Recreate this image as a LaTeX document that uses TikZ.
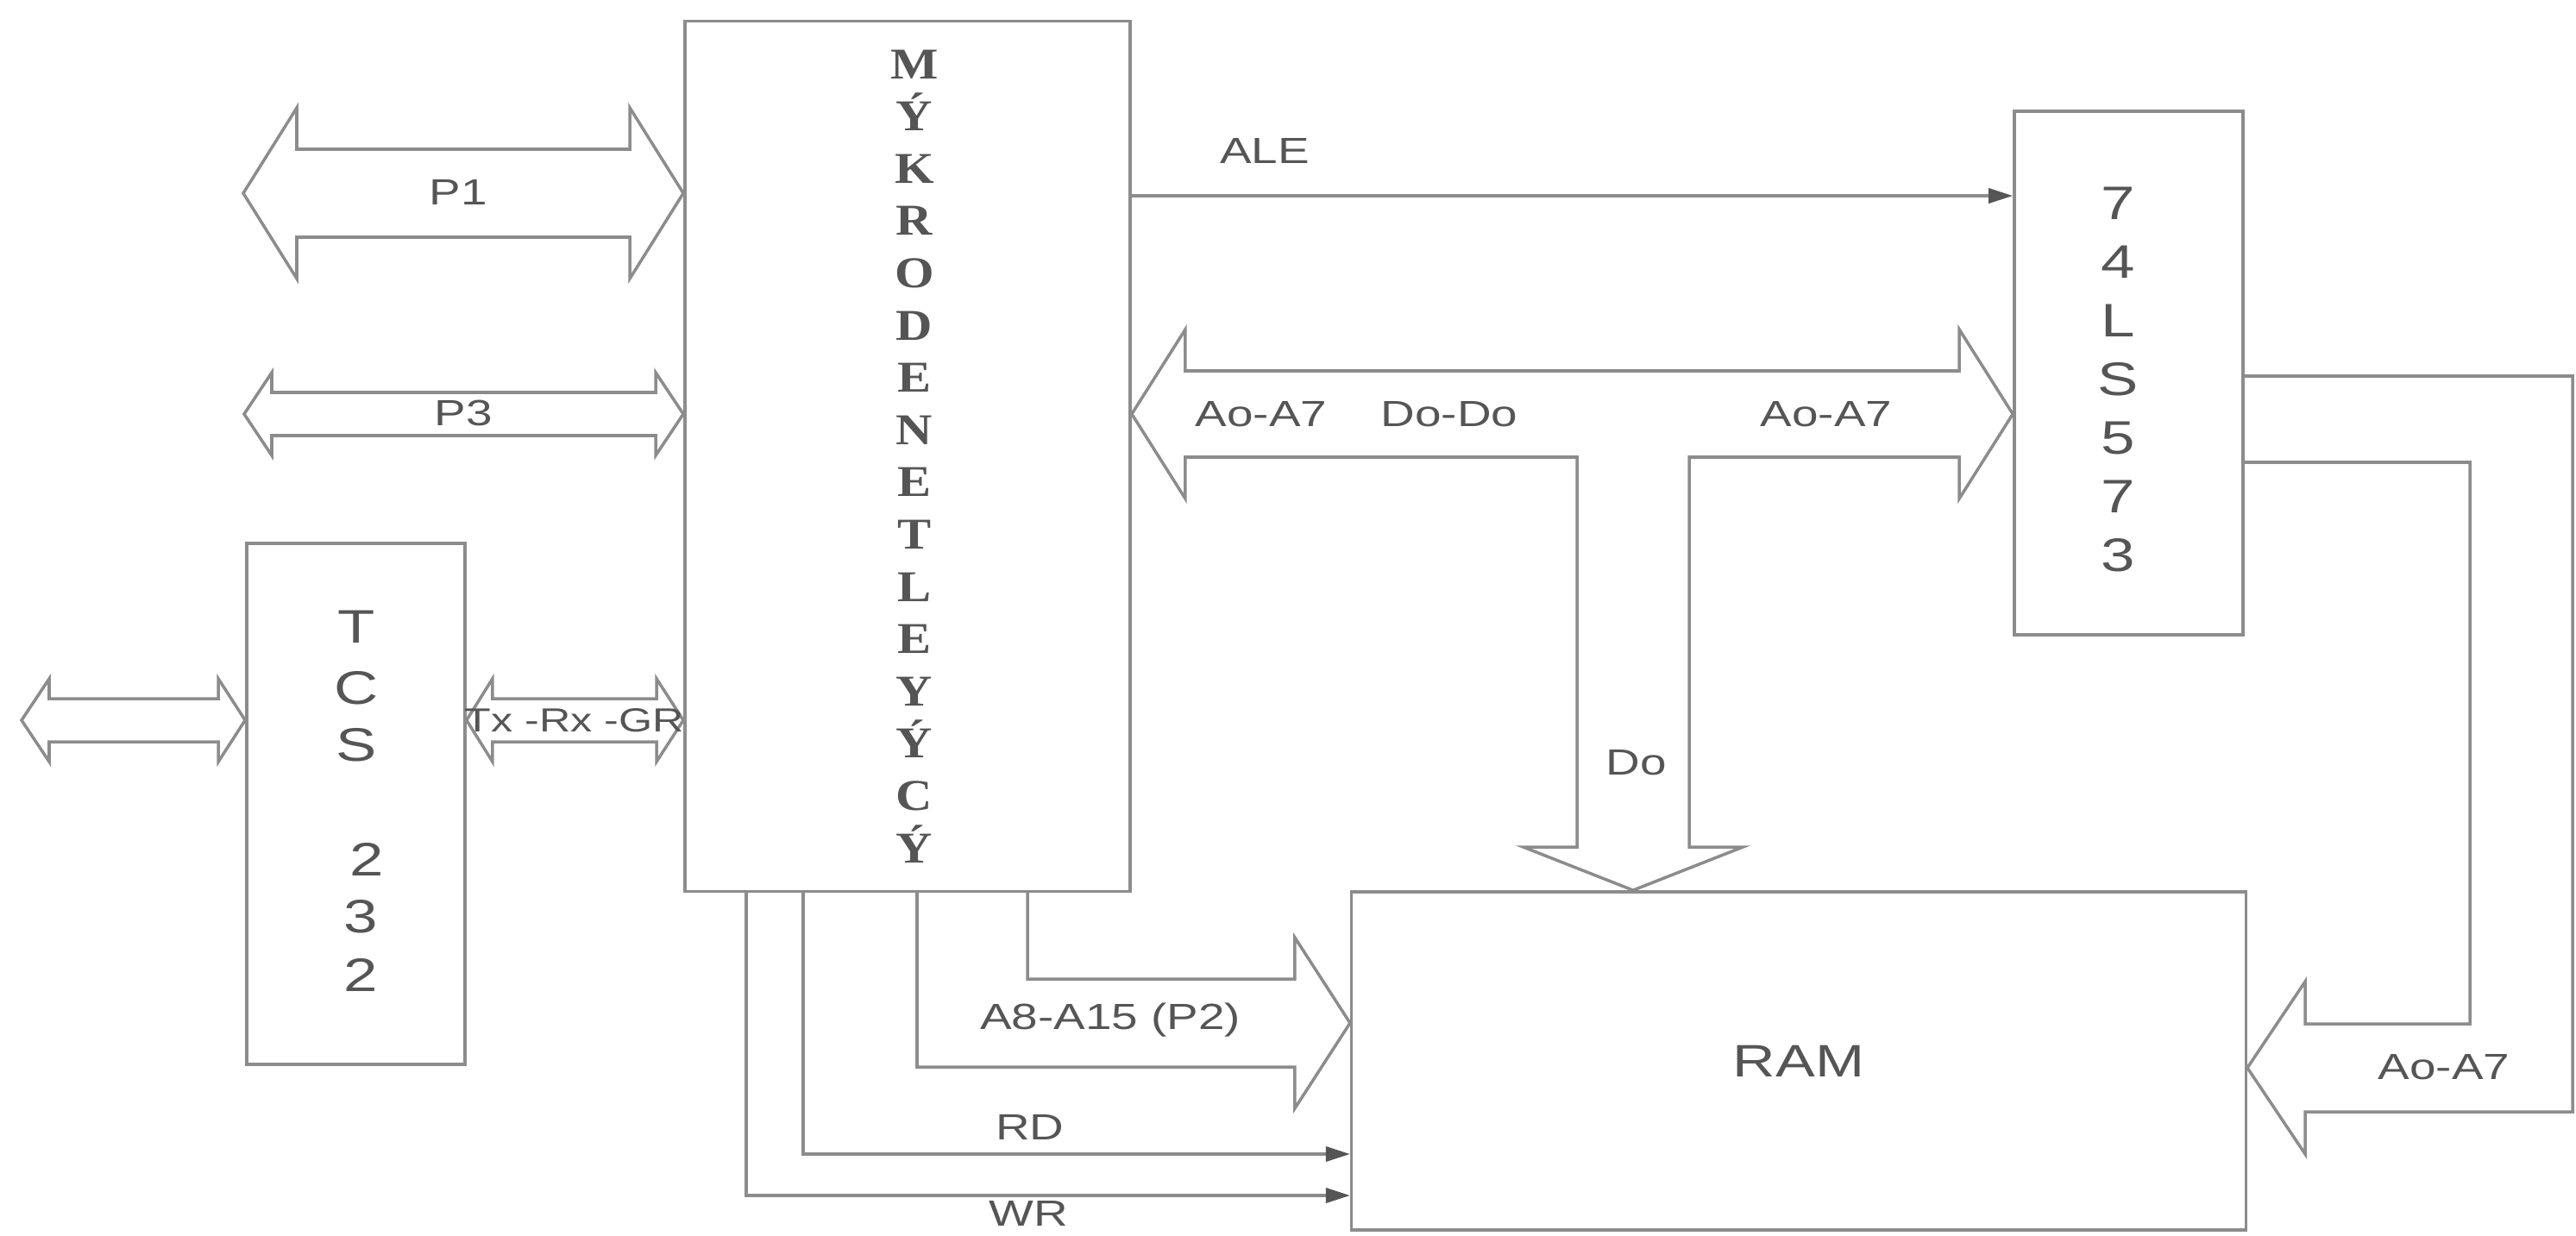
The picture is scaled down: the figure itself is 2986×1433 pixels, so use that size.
\documentclass[tikz,border=0pt]{standalone}
\usepackage{fontspec}
\usepackage{tikz}
\usetikzlibrary{arrows.meta, calc}
\newfontfamily\lblfont[FakeStretch=1.3]{Liberation Sans}
\newfontfamily\mcufont[FakeStretch=1.15]{Liberation Serif}
\definecolor{linegray}{HTML}{8C8C8C}
\definecolor{textgray}{HTML}{555555}

\begin{document}
\begin{tikzpicture}[
    x=0.01cm, y=-0.01cm,
    box/.style={draw=linegray, line width=1pt, inner sep=0pt, text=textgray},
    bus/.style={draw=linegray, line width=1pt, line join=miter},
    sig/.style={draw=linegray, line width=1pt, -{Triangle[length=0.28cm, width=0.17cm, color=textgray]}},
    lbl/.style={text=textgray, inner sep=0pt, font=\lblfont\fontsize{12}{14}\selectfont},
    chip/.style={text=textgray, inner sep=0pt, font=\lblfont\fontsize{15.5}{18}\selectfont},
    mchar/.style={text=textgray, inner sep=0pt, anchor=base, font=\mcufont\bfseries\fontsize{14.5}{17}\selectfont}
  ]
  \useasboundingbox (0,0) rectangle (2986,1433);

  % blocks
  \node[box, minimum width=5.16cm, minimum height=10.08cm] (mcu) at (1052,529) {};
  \node[box, minimum width=2.53cm, minimum height=6.04cm] (tcs) at (412.5,932) {};
  \node[box, minimum width=2.65cm, minimum height=6.07cm] (latch) at (2467.5,432.5) {};
  \node[box, minimum width=10.36cm, minimum height=3.92cm,
        font=\lblfont\fontsize{15}{18}\selectfont] (ram) at (2085,1230) {RAM};

  % vertical chip names
  \foreach \c [count=\i from 0] in {M,Ý,K,R,O,D,E,N,E,T,L,E,Y,Ý,C,Ý}
    \node[mchar] (mc\i) at (1060,{91+60.6*\i}) {\c};
  \foreach \c/\x/\y [count=\i] in {T/413/727,C/413/798,S/413/864,2/425/996,3/418/1063,2/418/1130}
    \node[chip] (tc\i) at (\x,\y) {\c};
  \foreach \c [count=\i from 0] in {7,4,L,S,5,7,3}
    \node[chip] (lc\i) at (2455,{236+68*\i}) {\c};

  % bus levels
  \coordinate (p1end) at (282,224);
  \coordinate (p3end) at (283,480);
  \coordinate (ext) at (25,835);
  \coordinate (txrx) at (0,835);
  \coordinate (ale) at (0,227);
  \coordinate (tbus) at (0,480);
  \coordinate (dobr) at (1893,0);
  \coordinate (a8y) at (0,1186);
  \coordinate (a8top) at (1191,0);
  \coordinate (a8bot) at (1063,0);
  \coordinate (rd) at (931,1338);
  \coordinate (wr) at (865,1386);
  \coordinate (q1) at (0,436);
  \coordinate (q2) at (2863,536);
  \coordinate (rim) at (2982,1289);
  \coordinate (rin) at (0,1238);

  % wide buses
  \draw[bus] (p1end) -- ++(62,-99) -- ++(0,48) -- ($(mcu.west |- p1end)+(-62,-51)$) -- ++(0,-48)
    -- (mcu.west |- p1end) -- ++(-62,99) -- ++(0,-48) -- ($(p1end)+(62,51)$) -- ++(0,48) -- cycle;
  \draw[bus] (p3end) -- ++(32,-48) -- ++(0,23) -- ($(mcu.west |- p3end)+(-32,-25)$) -- ++(0,-23)
    -- (mcu.west |- p3end) -- ++(-32,48) -- ++(0,-23) -- ($(p3end)+(32,25)$) -- ++(0,23) -- cycle;
  \draw[bus] (ext) -- ++(32,-48) -- ++(0,23) -- ($(tcs.west |- ext)+(-31,-25)$) -- ++(0,-23)
    -- (tcs.west |- ext) -- ++(-31,48) -- ++(0,-23) -- ($(ext)+(32,25)$) -- ++(0,23) -- cycle;
  \draw[bus] (tcs.east |- txrx) -- ++(30,-48) -- ++(0,23) -- ($(mcu.west |- txrx)+(-31,-25)$) -- ++(0,-23)
    -- (mcu.west |- txrx) -- ++(-31,48) -- ++(0,-23) -- ($(tcs.east |- txrx)+(30,25)$) -- ++(0,23) -- cycle;
  \draw[bus] (mcu.east |- tbus) -- ++(62,-98) -- ++(0,48) -- ($(latch.west |- tbus)+(-62,-50)$) -- ++(0,-48)
    -- (latch.west |- tbus) -- ++(-62,98) -- ++(0,-48) -| ($(dobr |- ram.north)+(65,-50)$) -- ++(62,0)
    -- (dobr |- ram.north) -- ++(-127,-50) -- ++(62,0) |- ($(mcu.east |- tbus)+(62,50)$) -- ++(0,48) -- cycle;
  \draw[bus] (a8top |- mcu.south) |- ($(ram.west |- a8y)+(-64,-51)$) -- ++(0,-48) -- (ram.west |- a8y)
    -- ++(-64,99) -- ++(0,-48) -| (a8bot |- mcu.south);
  \draw[bus] (latch.east |- q1) -| (rim) -- ($(ram.east |- rin)+(67,51)$) -- ++(0,49) -- (ram.east |- rin)
    -- ++(67,-100) -- ++(0,49) -| (q2) -- (latch.east |- q2);

  % control lines
  \draw[sig] (mcu.east |- ale) -- (latch.west |- ale);
  \draw[sig] (rd |- mcu.south) |- (ram.west |- rd);
  \draw[sig] (wr |- mcu.south) |- (ram.west |- wr);

  % labels
  \node[lbl] (p1lbl) at (531,223) {P1};
  \node[lbl] (p3lbl) at (537,479) {P3};
  \node[lbl, font=\lblfont\fontsize{11}{13}\selectfont] (txlbl) at (666,835) {Tx -Rx -GR};
  \node[lbl] (alelbl) at (1466,175) {ALE};
  \node[lbl] (adlbl) at (1462,480) {Ao-A7};
  \node[lbl] (ddlbl) at (1680,480) {Do-Do};
  \node[lbl] (allbl) at (2117,480) {Ao-A7};
  \node[lbl] (dolbl) at (1897,884) {Do};
  \node[lbl] (a8lbl) at (1287,1183) {A8-A15 (P2)};
  \node[lbl] (rdlbl) at (1194,1307) {RD};
  \node[lbl] (wrlbl) at (1192,1407) {WR};
  \node[lbl] (arlbl) at (2833,1237) {Ao-A7};
\end{tikzpicture}
\end{document}
